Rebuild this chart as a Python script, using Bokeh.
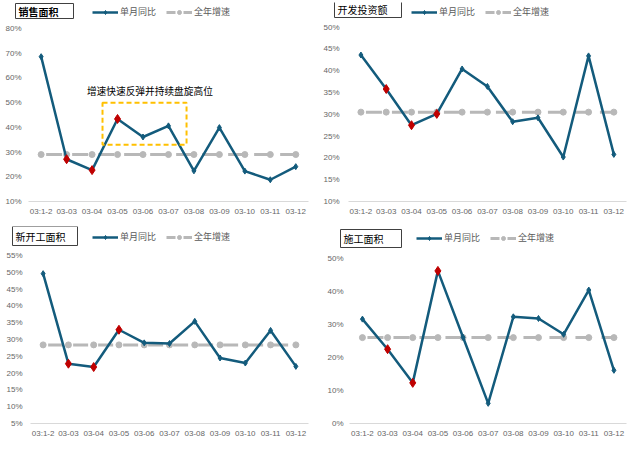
from bokeh.plotting import figure
from bokeh.layouts import gridplot
from bokeh.models import (ColumnDataSource, FixedTicker, Legend, LegendItem, Label,
                          BoxAnnotation, Range1d, PrintfTickFormatter)
from bokeh.embed import file_html
from bokeh.resources import INLINE

months = ["03:1-2", "03-03", "03-04", "03-05", "03-06", "03-07",
          "03-08", "03-09", "03-10", "03-11", "03-12"]

sales_monthly = [68.6, 27.1, 22.7, 43.4, 36.1, 40.6, 22.4, 39.9, 22.3, 18.8, 24.1]
sales_annual = 29.0
invest_monthly = [43.6, 35.8, 27.5, 30.1, 40.4, 36.4, 28.3, 29.2, 20.2, 43.4, 20.8]
invest_annual = 30.5
newstart_monthly = [49.6, 22.8, 21.8, 32.9, 29.0, 28.8, 35.4, 24.5, 23.0, 32.7, 22.0]
newstart_annual = 28.4
construct_monthly = [31.6, 22.5, 12.3, 46.2, 26.1, 6.1, 32.3, 31.8, 27.0, 40.4, 16.1]
construct_annual = 26.0
highlight_idx = [1, 2, 3]

sales_ticks = [10, 20, 30, 40, 50, 60, 70, 80]
invest_ticks = [10, 15, 20, 25, 30, 35, 40, 45, 50]
newstart_ticks = [5, 10, 15, 20, 25, 30, 35, 40, 45, 50, 55]
construct_ticks = [0, 10, 20, 30, 40, 50]

annot_text = "增速快速反弹并持续盘旋高位"
annot_box = dict(left=2.41, right=5.71, bottom=33.0, top=50.0)
annot_pos = (4.27, 54.9)

MAIN = "#135B7C"
RED = "#C00000"
GRAY = "#B8B8B8"
TXT = "#666666"
CJK = "Noto Sans CJK SC"


def make_panel(title, monthly, annual, ticks, g, bold=False, annotate=False):
    ox, oy, w, h = g["ox"], g["oy"], g["w"], g["h"]
    fl, fr = g["fl"], g["fr"]          # reference plot-area edges
    fa = ox + 3                        # actual frame left (room for title box)
    ytop_px, ybot_px = g["ytop"], g["ybot"]
    top_border = 2
    ppx = (ybot_px - ytop_px) / (ticks[-1] - ticks[0])
    yend = ticks[-1] + (ytop_px - (oy + top_border)) / ppx
    n = len(months)
    spacing = (fr - fl) / n
    xstart = -0.5 - (fl - fa) / spacing
    p = figure(width=w, height=h, output_backend="svg", toolbar_location=None,
               x_range=Range1d(xstart, n - 0.5),
               y_range=Range1d(ticks[0], yend),
               min_border_left=fa - ox, min_border_right=ox + w - fr,
               min_border_top=top_border, min_border_bottom=oy + h - ybot_px)
    p.outline_line_color = None
    p.xgrid.visible = False
    p.ygrid.visible = False
    p.background_fill_color = "white"

    x = list(range(n))
    src = ColumnDataSource(dict(x=x, y=monthly, yr=[annual] * n))
    hx = [x[i] for i in highlight_idx]
    hy = [monthly[i] for i in highlight_idx]

    dash = int(round(spacing - 10))
    p.line("x", "yr", source=src, line_color=GRAY, line_width=3,
           line_dash=f"{dash} 10", line_dash_offset=dash + 5)
    p.scatter("x", "yr", source=src, marker="circle", size=6,
              fill_color=GRAY, line_color=GRAY)
    p.line("x", "y", source=src, line_color=MAIN, line_width=2.5)
    p.scatter("x", "y", source=src, marker="diamond", size=6,
              fill_color=MAIN, line_color=MAIN)
    p.scatter(hx, hy, marker="diamond", size=9, fill_color=RED, line_color=RED)

    # legend proxies (hidden copies of the series)
    lm1 = p.line("x", "y", source=src, line_color=MAIN, line_width=2.5, visible=False)
    lm2 = p.scatter("x", "y", source=src, marker="diamond", size=6,
                    fill_color=MAIN, line_color=MAIN, visible=False)
    lg1 = p.line("x", "yr", source=src, line_color=GRAY, line_width=3,
                 line_dash="9 8", visible=False)
    lg2 = p.scatter("x", "yr", source=src, marker="circle", size=6,
                    fill_color=GRAY, line_color=GRAY, visible=False)
    legend = Legend(items=[LegendItem(label="单月同比", renderers=[lm1, lm2]),
                           LegendItem(label="全年增速", renderers=[lg1, lg2])],
                    orientation="horizontal",
                    location=(g["lx"] - fa, ybot_px - (g["lcy"] + 5)),
                    glyph_width=26, glyph_height=10, label_height=10,
                    label_standoff=2, spacing=10, padding=0, margin=0,
                    border_line_color=None, background_fill_alpha=0,
                    label_text_font=CJK, label_text_font_size="9px",
                    label_text_color="#595959")
    p.add_layout(legend, "center")

    bx0, by0, bx1, by1 = g["box"]
    p.add_layout(BoxAnnotation(left=bx0 - fa, right=bx1 - fa,
                               bottom=ybot_px - by1, top=ybot_px - by0,
                               left_units="screen", right_units="screen",
                               bottom_units="screen", top_units="screen",
                               fill_color="white", fill_alpha=1,
                               line_color="#404040", line_alpha=1, line_width=1))
    p.add_layout(Label(x=bx0 - fa + 3, y=ybot_px - (by0 + by1) / 2,
                       x_units="screen", y_units="screen",
                       text=title, text_font=CJK, text_font_size="10px",
                       text_font_style="bold" if bold else "normal",
                       text_color="black", text_align="left", text_baseline="middle"))

    if annotate:
        p.add_layout(BoxAnnotation(fill_alpha=0, line_color="#FFC000", line_alpha=1,
                                   line_width=2, line_dash="5 3", **annot_box))
        p.add_layout(Label(x=annot_pos[0], y=annot_pos[1], text=annot_text,
                           text_font=CJK, text_font_size="9.7px", text_color="black",
                           text_align="center", text_baseline="middle"))

    p.xaxis.ticker = FixedTicker(ticks=x)
    p.xaxis.major_label_overrides = {i: m for i, m in enumerate(months)}
    p.xaxis.bounds = (-0.5, n - 0.5)
    p.yaxis.ticker = FixedTicker(ticks=ticks)
    p.yaxis.formatter = PrintfTickFormatter(format="%d%%")
    for ax in (p.xaxis[0], p.yaxis[0]):
        ax.major_tick_line_color = None
        ax.minor_tick_line_color = None
        ax.major_tick_out = 0
        ax.major_tick_in = 0
        ax.minor_tick_out = 0
        ax.minor_tick_in = 0
        ax.major_label_text_font = "Liberation Sans"
        ax.major_label_text_font_size = "8px"
        ax.major_label_text_color = TXT
    p.xaxis.major_label_standoff = 5
    p.yaxis.major_label_standoff = -(g["lr"] - fa)
    p.xaxis.axis_line_color = "#D9D9D9"
    p.yaxis.axis_line_color = None
    return p


g1 = dict(ox=0, oy=0, w=320, h=224, fl=28, fr=309, ytop=28, ybot=201, lr=21,
          lx=92, lcy=13, box=(15, 3, 73, 18))
g2 = dict(ox=320, oy=0, w=320, h=224, fl=345, fr=626, ytop=27, ybot=204, lr=336,
          lx=408, lcy=16, box=(331, 4, 398, 20))
g3 = dict(ox=0, oy=224, w=320, h=225, fl=30, fr=308, ytop=255, ybot=423, lr=22,
          lx=92, lcy=238, box=(12, 226, 77, 245))
g4 = dict(ox=320, oy=224, w=320, h=225, fl=347, fr=631, ytop=258, ybot=424, lr=340,
          lx=413, lcy=240, box=(337, 230, 398, 248))

p1 = make_panel("销售面积", sales_monthly, sales_annual, sales_ticks, g1, bold=True, annotate=True)
p2 = make_panel("开发投资额", invest_monthly, invest_annual, invest_ticks, g2)
p3 = make_panel("新开工面积", newstart_monthly, newstart_annual, newstart_ticks, g3)
p4 = make_panel("施工面积", construct_monthly, construct_annual, construct_ticks, g4)

layout = gridplot([[p1, p2], [p3, p4]], toolbar_location=None)

open("out.html", "w").write(file_html(layout, INLINE))
